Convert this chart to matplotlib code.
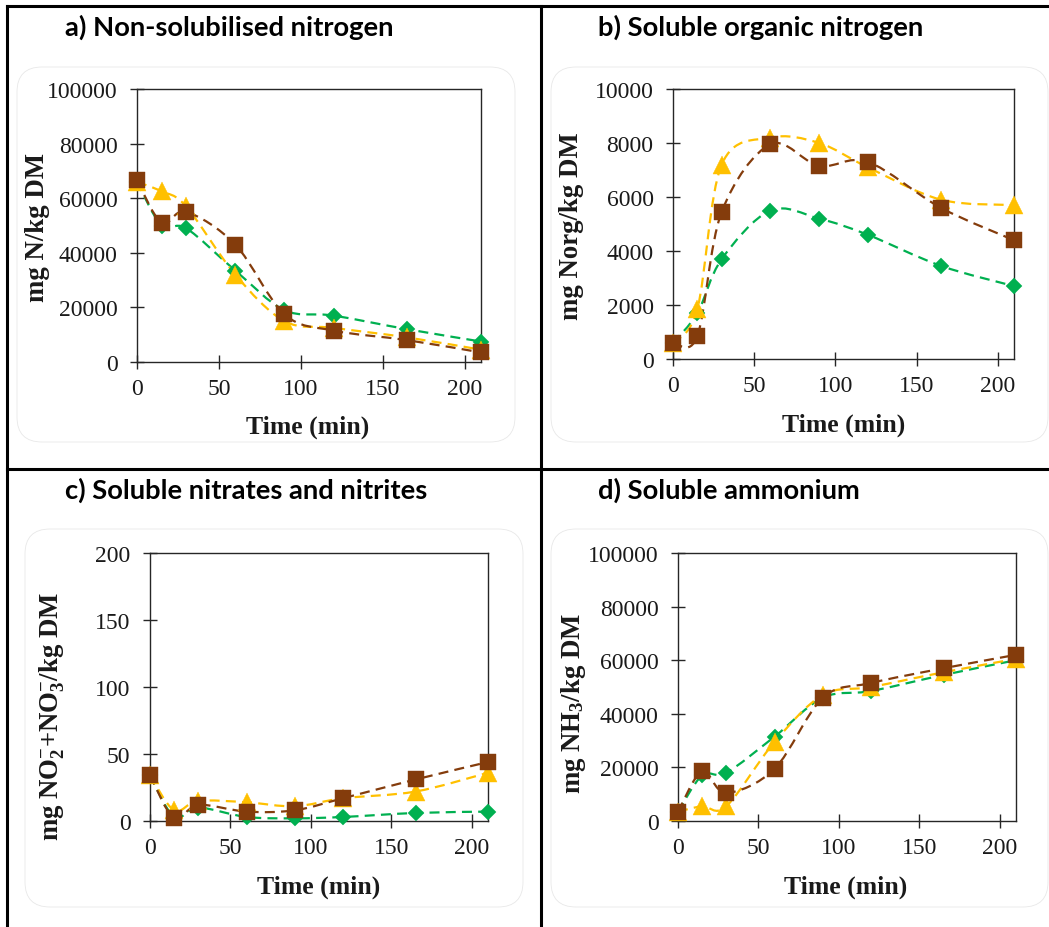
import matplotlib
matplotlib.use('Agg')
import matplotlib.pyplot as plt
from matplotlib.path import Path
from matplotlib.patches import PathPatch, FancyBboxPatch
from matplotlib.lines import Line2D
from matplotlib.transforms import IdentityTransform
import numpy as np

# ---------------- data ----------------
time = [0, 15, 30, 60, 90, 120, 165, 210]
x_ticks = [0, 50, 100, 150, 200]

a_green = [66000, 50000, 49000, 33500, 19000, 17000, 12000, 7500]
a_yellow = [66000, 62500, 57000, 32000, 15000, 12500, 9000, 4500]
a_brown = [66500, 51000, 55000, 43000, 17500, 11500, 8000, 3500]

b_green = [600, 1700, 3700, 5500, 5200, 4600, 3450, 2700]
b_yellow = [600, 1850, 7200, 8200, 8000, 7100, 5900, 5700]
b_brown = [600, 850, 5450, 7950, 7150, 7300, 5600, 4400]

c_green = [34, 3, 10, 3, 2, 3, 6, 7]
c_yellow = [34, 8, 15, 14, 11, 17, 22, 36]
c_brown = [34, 2, 12, 7, 8, 17, 31, 44]

d_green = [3500, 17000, 18000, 31500, 46000, 48500, 54500, 60000]
d_yellow = [3500, 5500, 5500, 29500, 47000, 50000, 55500, 60500]
d_brown = [3500, 18500, 10500, 19500, 46000, 51500, 57000, 62000]

titles = ["a) Non-solubilised nitrogen", "b) Soluble organic nitrogen",
          "c) Soluble nitrates and nitrites", "d) Soluble ammonium"]
ylabels = ["mg N/kg DM", "mg Norg/kg DM",
           r"mg NO$_2^{-}$+NO$_3^{-}$/kg DM", r"mg NH$_3$/kg DM"]
xlabel = "Time (min)"
y_ticks = [[0, 20000, 40000, 60000, 80000, 100000],
           [0, 2000, 4000, 6000, 8000, 10000],
           [0, 50, 100, 150, 200],
           [0, 20000, 40000, 60000, 80000, 100000]]

GREEN, YELLOW, BROWN = '#00B050', '#FFC000', '#843C0C'

# ---------------- style ----------------
plt.rcParams['mathtext.fontset'] = 'custom'
plt.rcParams['mathtext.rm'] = 'Liberation Serif:bold'
plt.rcParams['mathtext.it'] = 'Liberation Serif:bold'
plt.rcParams['mathtext.bf'] = 'Liberation Serif:bold'
plt.rcParams['mathtext.default'] = 'rm'

W, H = 1049, 928
fig = plt.figure(figsize=(W / 100, H / 100), dpi=100)
PIX = IdentityTransform()


def px_axes(l, t, r, b):
    return fig.add_axes([l / W, 1 - b / H, (r - l) / W, (b - t) / H])


def smooth_path(x, y):
    pts = np.column_stack([x, y]).astype(float)
    n = len(pts)
    verts = [pts[0]]
    codes = [Path.MOVETO]
    for i in range(n - 1):
        p0 = pts[i - 1] if i > 0 else pts[i]
        p1 = pts[i]
        p2 = pts[i + 1]
        p3 = pts[i + 2] if i + 2 < n else pts[i + 1]
        c1 = p1 + (p2 - p0) / 6.0
        c2 = p2 - (p3 - p1) / 6.0
        verts += [c1, c2, p2]
        codes += [Path.CURVE4] * 3
    return Path(verts, codes)


def draw_series(ax, y, color, marker, ms):
    patch = PathPatch(smooth_path(time, y), fill=False, edgecolor=color,
                      linewidth=1.6, linestyle=(0, (4.5, 2.8)), zorder=2,
                      clip_on=False)
    ax.add_patch(patch)
    ax.plot(time, y, linestyle='none', marker=marker, markersize=ms,
            markerfacecolor=color, markeredgecolor=color, markeredgewidth=0.3,
            zorder=3, clip_on=False)


panels = [
    dict(ax=(137, 90, 481, 363), box=(17, 68, 515, 443), title=(65, 27),
         ylab=(38, 227), xlab=(308, 427), data=(a_green, a_yellow, a_brown),
         ylim=100000),
    dict(ax=(673, 90, 1014, 360), box=(551, 68, 1048, 443), title=(598, 27),
         ylab=(572, 226), xlab=(844, 425), data=(b_green, b_yellow, b_brown),
         ylim=10000),
    dict(ax=(150, 554, 488, 822), box=(25, 530, 523, 908), title=(65, 490),
         ylab=(52, 716), xlab=(319, 887), data=(c_green, c_yellow, c_brown),
         ylim=200),
    dict(ax=(678, 554, 1016, 822), box=(551, 530, 1048, 908), title=(598, 490),
         ylab=(573, 704), xlab=(846, 887), data=(d_green, d_yellow, d_brown),
         ylim=100000),
]

for i, p in enumerate(panels):
    bl, bt, br, bb = p['box']
    box = FancyBboxPatch((bl + 25, H - bb + 25), (br - bl) - 50, (bb - bt) - 50,
                         boxstyle='round,pad=25', transform=PIX,
                         facecolor='none', edgecolor='#e8e8e8', linewidth=0.6,
                         zorder=-1)
    fig.patches.append(box)

    ax = px_axes(*p['ax'])
    ax.set_facecolor('none')
    g, yl, br_ = p['data']
    draw_series(ax, g, GREEN, 'D', 7.8)
    draw_series(ax, yl, YELLOW, '^', 12.3)
    draw_series(ax, br_, BROWN, 's', 11.8)
    ax.set_xlim(0, 210)
    ax.set_ylim(0, p['ylim'])
    ax.set_xticks(x_ticks)
    ax.set_yticks(y_ticks[i])
    ax.set_xticklabels([str(v) for v in x_ticks])
    ax.set_yticklabels([str(v) for v in y_ticks[i]])
    for s in ax.spines.values():
        s.set_color('#262626')
        s.set_linewidth(1.0)
    ax.tick_params(direction='inout', length=9.4, width=1.0, color='#262626',
                   labelsize=17, labelcolor='#1a1a1a')
    ax.tick_params(axis='y', pad=9.3)
    ax.tick_params(axis='x', pad=7)
    for lab in ax.get_xticklabels() + ax.get_yticklabels():
        lab.set_family('Liberation Serif')

    tx, ty = p['title']
    fig.text(tx / W, 1 - ty / H, titles[i], family='Lato', weight='bold',
             fontsize=19.7, ha='left', va='center', color='black')
    lx, ly = p['ylab']
    fig.text(lx / W, 1 - ly / H, ylabels[i], family='Liberation Serif',
             weight='bold', fontsize=19.3, rotation=90, ha='center',
             va='center', color='#1a1a1a')
    xx, xy = p['xlab']
    fig.text(xx / W, 1 - xy / H, xlabel, family='Liberation Serif',
             weight='bold', fontsize=18.5, ha='center', va='center',
             color='#1a1a1a')

# table borders
lw = 2.2
for (x0, y0, x1, y1) in [(7, 7, 1049, 7), (7, 7, 7, 928), (541, 7, 541, 928),
                         (7, 470, 1049, 470)]:
    fig.add_artist(Line2D([x0, x1], [H - y0, H - y1], transform=PIX,
                          color='black', linewidth=lw, solid_capstyle='projecting'))

fig.savefig('out.png', dpi=100)
